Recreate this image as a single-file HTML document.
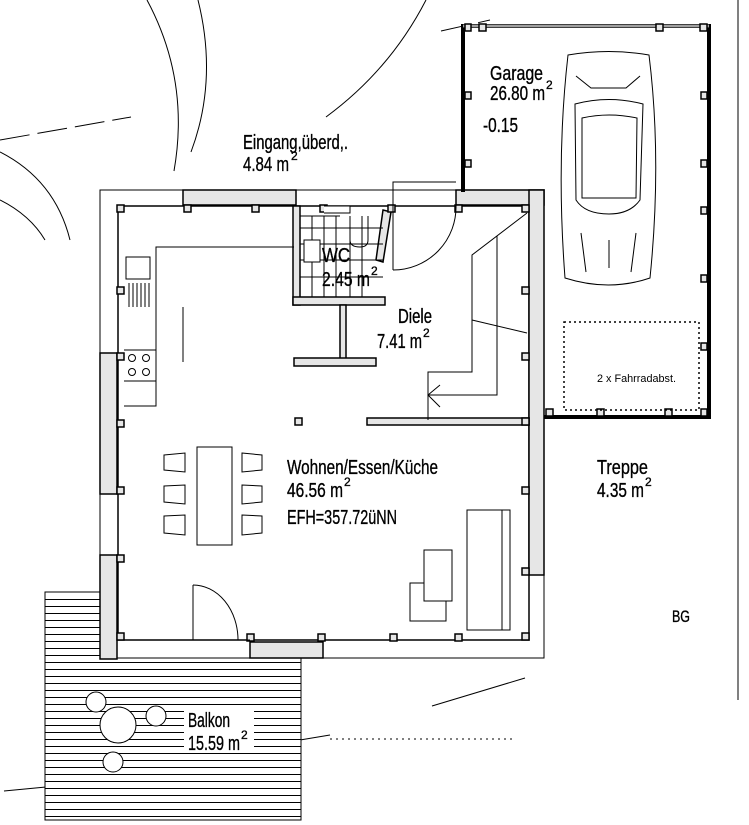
<!DOCTYPE html>
<html><head><meta charset="utf-8"><style>
html,body{margin:0;padding:0;background:#fff}
svg{display:block}
text{font-family:"Liberation Sans",sans-serif;fill:#000}
</style></head><body>
<svg width="749" height="825" viewBox="0 0 749 825" xmlns="http://www.w3.org/2000/svg">
<g fill="none" stroke="#000" stroke-width="1">
<path d="M147,0 Q190,80 174,171"/>
<path d="M198,0 Q218,80 191,152"/>
<path d="M0,152 Q55,180 70,240"/>
<path d="M0,200 Q30,215 45,240"/>
<path d="M426,0 Q390,70 326,117"/>
<path d="M0,140 L131,117" stroke-dasharray="30,8"/>
<path d="M441,31 L490,20" stroke-dasharray="30,8"/>
<path d="M432,706 L525,678"/>
<path d="M330,739 L514,739" stroke-dasharray="2,4"/>
<path d="M270,745 L330,735"/>
<path d="M4,791 L67,785"/>
<line x1="738" y1="0" x2="738" y2="700"/>
</g>

<g stroke="#000" stroke-width="1" fill="#fff">
<rect x="45" y="592" width="256" height="228"/>
</g>
<g stroke="#000" stroke-width="1">
<path d="M45,599.5H301M45,606.5H301M45,613.5H301M45,620.5H301M45,627.5H301M45,634.5H301M45,641.5H301M45,648.5H301M45,655.5H301M45,662.5H301M45,669.5H301M45,676.5H301M45,683.5H301M45,690.5H301M45,697.5H301M45,704.5H301M45,711.5H301M45,718.5H301M45,725.5H301M45,732.5H301M45,739.5H301M45,746.5H301M45,753.5H301M45,760.5H301M45,767.5H301M45,774.5H301M45,781.5H301M45,788.5H301M45,795.5H301M45,802.5H301M45,809.5H301M45,816.5H301"/>
</g>
<g stroke="#000" fill="#fff">
<circle cx="96" cy="702" r="10"/>
<circle cx="118" cy="725" r="18"/>
<circle cx="156" cy="716" r="10"/>
<circle cx="113" cy="762" r="10"/>
</g>
<rect x="184" y="705" width="70" height="48" fill="#fff"/>

<rect x="100" y="190" width="444" height="468" fill="#fff" stroke="#000"/>
<line x1="544" y1="575" x2="544" y2="658" stroke="#000"/>
<rect x="118" y="206" width="411" height="434" fill="#fff" stroke="#000" stroke-width="1.5"/>

<g fill="#e6e6e6" stroke="#000" stroke-width="1.5">
<rect x="183" y="190" width="113" height="15"/>
<rect x="456" y="190" width="88" height="15"/>
<rect x="529" y="190" width="15" height="385"/>
<rect x="100" y="353" width="17" height="141"/>
<rect x="100" y="555" width="17" height="104"/>
<rect x="250" y="642" width="73" height="16"/>
<rect x="367" y="418" width="162" height="7"/>
<rect x="293" y="206" width="7" height="99"/>
<rect x="293" y="297" width="92" height="8"/>
<rect x="340" y="305" width="6" height="55"/>
<rect x="294" y="358" width="82" height="8"/>
<polygon points="383,210 391,212 383,262 376,260"/>
</g>
<g fill="#e6e6e6" stroke="#000" stroke-width="1.5">
<rect x="117" y="205" width="7" height="7"/><rect x="184" y="205" width="7" height="7"/><rect x="252" y="205" width="7" height="7"/><rect x="320" y="205" width="7" height="7"/><rect x="388" y="205" width="7" height="7"/><rect x="455" y="205" width="7" height="7"/><rect x="522" y="205" width="7" height="7"/>
<rect x="117" y="287" width="7" height="7"/><rect x="117" y="353" width="7" height="7"/><rect x="117" y="420" width="7" height="7"/><rect x="117" y="487" width="7" height="7"/><rect x="117" y="555" width="7" height="7"/><rect x="117" y="633" width="7" height="7"/>
<rect x="522" y="287" width="7" height="7"/><rect x="522" y="353" width="7" height="7"/><rect x="522" y="418" width="7" height="7"/><rect x="522" y="487" width="7" height="7"/><rect x="522" y="568" width="7" height="7"/><rect x="522" y="633" width="7" height="7"/>
<rect x="247" y="634" width="7" height="7"/><rect x="318" y="634" width="7" height="7"/><rect x="390" y="634" width="7" height="7"/><rect x="455" y="634" width="7" height="7"/>
<rect x="295" y="418" width="7" height="7"/>
</g>

<g fill="none" stroke="#000" stroke-width="4">
<polyline points="463,192 463,26 709,26 709,417 544,417"/>
</g>
<line x1="463" y1="26" x2="709" y2="26" stroke="#fff" stroke-width="2.5"/>
<line x1="463" y1="26" x2="709" y2="26" stroke="#000" stroke-width="0.8"/>
<g fill="#e6e6e6" stroke="#000" stroke-width="1.5">
<rect x="465" y="24" width="6" height="7"/><rect x="479" y="24" width="7" height="7"/><rect x="656" y="24" width="7" height="7"/><rect x="700" y="24" width="7" height="7"/>
<rect x="465" y="92" width="6" height="7"/><rect x="465" y="160" width="6" height="7"/>
<rect x="701" y="92" width="6" height="7"/><rect x="701" y="160" width="6" height="7"/><rect x="701" y="207" width="6" height="7"/><rect x="701" y="275" width="6" height="7"/><rect x="701" y="343" width="6" height="7"/><rect x="701" y="409" width="6" height="7"/>
<rect x="546" y="409" width="7" height="7"/><rect x="597" y="409" width="7" height="7"/><rect x="665" y="409" width="7" height="7"/>
</g>
<rect x="564" y="322" width="135" height="88" fill="none" stroke="#000" stroke-width="1.5" stroke-dasharray="2,3"/>
<g fill="none" stroke="#000" stroke-width="1">
<path d="M568,55 Q609,48 649,55 Q662,160 650,278 Q609,292 565,278 Q556,160 568,55 Z"/>
<path d="M576,76 L591,88 L626,88 L640,76"/>
<path d="M575,104 Q609,95 643,104 L640,200 Q630,214 609,214 Q585,214 576,200 Z"/>
<path d="M582,118 Q609,112 637,118 L636,198 L582,198 Z"/>
<path d="M581,233 L586,272 M609,240 L609,268 M636,233 L631,272"/>
</g>

<g fill="none" stroke="#000" stroke-width="1">
<polyline points="456,182 393,182 393,270"/>
<path d="M393,270 A63,63 0 0 0 456,205"/>
<path d="M300,216 L340,216 M300,228 L383,228 M300,244 L383,244 M300,260 L383,260 M300,277 L383,277"/>
<path d="M312,216 L312,297 M324,216 L324,297 M336,216 L336,297 M350,216 L350,297 M362,216 L362,297"/>
<rect x="304" y="240" width="16" height="22" fill="#fff"/>
<path d="M350,216 L350,240 Q350,247 360,247 Q368,247 368,240 L368,216"/>
<path d="M324,206 L350,206 L350,213 L324,213" fill="#fff"/>
<polyline points="527,213 472,255 472,372 428,372 428,420"/>
<polyline points="497,236 497,395 428,395"/>
<polyline points="440,385 428,395 440,407"/>
<line x1="472" y1="320" x2="527" y2="333"/>
<polyline points="294,247 156,247 156,406 124,406"/>
<rect x="126" y="257" width="24" height="22"/>
<path d="M129,283V307M133,283V307M137,283V307M141,283V307M145,283V307M149,283V307"/>
<line x1="124" y1="350" x2="156" y2="350"/><line x1="124" y1="381" x2="156" y2="381"/>
<circle cx="132" cy="358" r="3.5"/><circle cx="146" cy="358" r="3.5"/><circle cx="132" cy="372" r="3.5"/><circle cx="146" cy="372" r="3.5"/>
<line x1="183" y1="307" x2="183" y2="362"/>
<rect x="197" y="447" width="35" height="98"/>
<path d="M164,455 L185,453 L185,472 L164,470 Z M164,486 L185,485 L185,504 L164,502 Z M164,516 L185,515 L185,535 L164,533 Z"/>
<path d="M242,453 L262,455 L262,470 L242,472 Z M242,485 L262,486 L262,502 L242,504 Z M242,515 L262,516 L262,533 L242,535 Z"/>
<rect x="467" y="510" width="43" height="120"/>
<line x1="502" y1="510" x2="502" y2="630"/>
<rect x="410" y="583" width="36" height="38"/>
<rect x="424" y="550" width="28" height="51" fill="#fff"/>
<line x1="193" y1="585" x2="193" y2="640"/>
<path d="M193,585 A45,55 0 0 1 238,640"/>
<line x1="124" y1="640" x2="250" y2="640"/>
</g>

<g font-size="20" stroke="#000" stroke-width="0.35">
<text x="243" y="149" textLength="105" lengthAdjust="spacingAndGlyphs">Eingang,überd,.</text>
<text x="243" y="171" textLength="46" lengthAdjust="spacingAndGlyphs">4.84 m</text><text x="291" y="160" font-size="12">2</text>
<text x="490" y="80" textLength="53" lengthAdjust="spacingAndGlyphs">Garage</text>
<text x="490" y="100" textLength="55" lengthAdjust="spacingAndGlyphs">26.80 m</text><text x="546" y="89" font-size="12">2</text>
<text x="483" y="132" textLength="35" lengthAdjust="spacingAndGlyphs">-0.15</text>
<text x="322" y="262" textLength="28" lengthAdjust="spacingAndGlyphs">WC</text>
<text x="322" y="286" textLength="48" lengthAdjust="spacingAndGlyphs">2.45 m</text><text x="371" y="275" font-size="12">2</text>
<text x="398" y="323" textLength="34" lengthAdjust="spacingAndGlyphs">Diele</text>
<text x="377" y="348" textLength="45" lengthAdjust="spacingAndGlyphs">7.41 m</text><text x="423" y="337" font-size="12">2</text>
<text x="287" y="474" textLength="151" lengthAdjust="spacingAndGlyphs">Wohnen/Essen/Küche</text>
<text x="287" y="497" textLength="56" lengthAdjust="spacingAndGlyphs">46.56 m</text><text x="344" y="486" font-size="12">2</text>
<text x="287" y="524" textLength="110" lengthAdjust="spacingAndGlyphs">EFH=357.72üNN</text>
<text x="597" y="474" textLength="51" lengthAdjust="spacingAndGlyphs">Treppe</text>
<text x="597" y="497" textLength="47" lengthAdjust="spacingAndGlyphs">4.35 m</text><text x="645" y="486" font-size="12">2</text>
<text x="672" y="622" font-size="17" textLength="18" lengthAdjust="spacingAndGlyphs">BG</text>
<text x="188" y="727" textLength="42" lengthAdjust="spacingAndGlyphs">Balkon</text>
<text x="188" y="750" textLength="52" lengthAdjust="spacingAndGlyphs">15.59 m</text><text x="241" y="739" font-size="12">2</text>
</g>
<text x="597" y="382" font-size="11" textLength="79" lengthAdjust="spacingAndGlyphs">2 x Fahrradabst.</text>
</svg>
</body></html>
